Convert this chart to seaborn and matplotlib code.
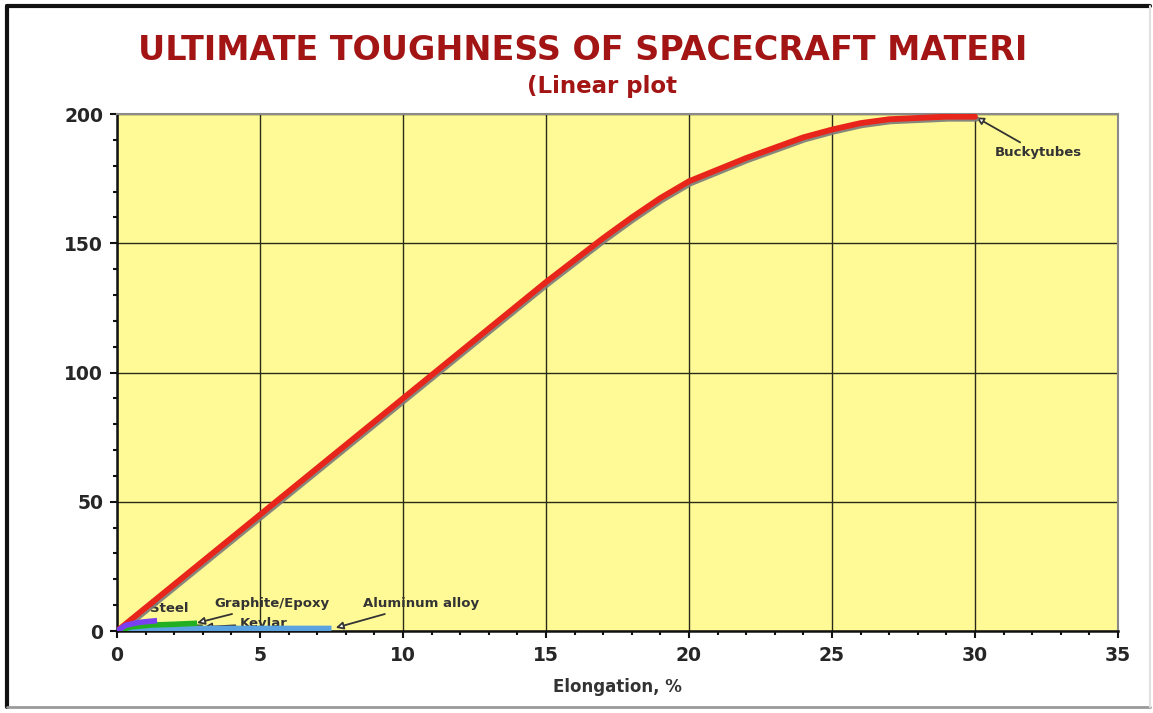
import numpy as np
import pandas as pd
import matplotlib
matplotlib.use("Agg")
import matplotlib.pyplot as plt
import matplotlib.patheffects as pe
import seaborn as sns
from matplotlib.ticker import MultipleLocator
from matplotlib.lines import Line2D

# Elongation (%) and toughness for each material
bucky_x = [0, 5, 10, 15, 16, 17, 18, 19, 20, 21, 22, 23, 24, 25, 26, 27, 28, 29, 30]
bucky_y = [0, 45, 90, 135, 143.5, 152, 160, 167.5, 174, 178.5, 183, 187, 191, 194,
           196.5, 198, 198.5, 199, 199]
steel_x = [0, 0.3, 0.7, 1.0, 1.4]
steel_y = [0, 2.2, 3.2, 3.6, 4.0]
graphite_x = [0, 0.5, 1.2, 2.0, 2.8]
graphite_y = [0, 1.6, 2.3, 2.6, 3.0]
kevlar_x = [0, 1.0, 2.0, 3.0]
kevlar_y = [0, 1.0, 1.3, 1.5]
aluminum_x = [0, 0.6, 2.0, 4.0, 7.5]
aluminum_y = [0, 0.7, 0.9, 1.0, 1.0]

frames = []
for name, xs, ys in [("Buckytubes", bucky_x, bucky_y), ("Steel", steel_x, steel_y),
                     ("Graphite/Epoxy", graphite_x, graphite_y), ("Kevlar", kevlar_x, kevlar_y),
                     ("Aluminum alloy", aluminum_x, aluminum_y)]:
    frames.append(pd.DataFrame({"elong": xs, "tough": ys, "material": name}))
df = pd.concat(frames, ignore_index=True)

sns.set_style("white")
plt.rcParams["font.family"] = ["DejaVu Sans"]

fig = plt.figure(figsize=(11.53, 7.13), dpi=100)
ax = fig.add_axes([0.1015, 0.115, 0.8681, 0.725])
ax.set_facecolor("#FFFA96")

colors = {"Buckytubes": "#E8251A", "Steel": "#7B3FF2", "Graphite/Epoxy": "#22B022",
          "Kevlar": "#4A6030", "Aluminum alloy": "#5BA3E0"}

bt = df[df.material == "Buckytubes"]
sns.lineplot(data=bt, x="elong", y="tough", ax=ax, color=colors["Buckytubes"], lw=4.2,
             sort=False, estimator=None, zorder=4, solid_capstyle="round",
             solid_joinstyle="round",
             path_effects=[pe.SimpleLineShadow(offset=(1.0, -1.5), shadow_color="#7a7a7a",
                                               alpha=0.9), pe.Normal()])
for m in ["Kevlar", "Aluminum alloy", "Graphite/Epoxy", "Steel"]:
    sub = df[df.material == m]
    sns.lineplot(data=sub, x="elong", y="tough", ax=ax, color=colors[m], lw=4,
                 sort=False, estimator=None, zorder=5, solid_capstyle="butt")

ax.set_xlim(0, 35)
ax.set_ylim(0, 200)
ax.xaxis.set_major_locator(MultipleLocator(5))
ax.xaxis.set_minor_locator(MultipleLocator(1))
ax.yaxis.set_major_locator(MultipleLocator(50))
ax.yaxis.set_minor_locator(MultipleLocator(10))
ax.grid(True, which="major", color="#2a2a1a", lw=1.0, zorder=1)
ax.set_axisbelow(True)
ax.tick_params(which="major", direction="out", length=5, width=1.5, colors="#111111",
               labelsize=13.5, pad=5)
ax.tick_params(which="minor", direction="out", length=3, width=1.5, colors="#111111")
ax.tick_params(axis="x", which="major", pad=6)
ax.tick_params(axis="x", which="both", bottom=True)
ax.tick_params(axis="y", which="both", left=True)
for lab in ax.get_xticklabels() + ax.get_yticklabels():
    lab.set_fontweight("bold")
    lab.set_color("#262626")

for s in ["left", "bottom"]:
    ax.spines[s].set_color("#111111")
    ax.spines[s].set_linewidth(1.8)
for s in ["top", "right"]:
    ax.spines[s].set_color("#8a8a8a")
    ax.spines[s].set_linewidth(1.5)

ax.set_xlabel("Elongation, %", fontsize=12, fontweight="bold", color="#333333", labelpad=9)
ax.set_ylabel("")

arrow = dict(arrowstyle="-|>", color="#333333", lw=1.3, fc="white", mutation_scale=11,
             shrinkA=1, shrinkB=1)
tfont = dict(fontsize=9.5, fontweight="bold", color="#333333")
ax.annotate("Buckytubes", xy=(30, 199), xytext=(30.7, 185), arrowprops=arrow,
            va="center", ha="left", **tfont)
ax.text(1.15, 8.7, "Steel", va="center", ha="left", **tfont)
ax.annotate("Graphite/Epoxy", xy=(2.75, 3.0), xytext=(3.4, 10.5), arrowprops=arrow,
            va="center", ha="left", **tfont)
ax.annotate("Kevlar", xy=(3.0, 1.5), xytext=(4.3, 2.8), arrowprops=arrow,
            va="center", ha="left", **tfont)
ax.annotate("Aluminum alloy", xy=(7.6, 1.1), xytext=(8.6, 10.5), arrowprops=arrow,
            va="center", ha="left", **tfont)

fig.text(138 / 1153, 1 - 51 / 713, "ULTIMATE TOUGHNESS OF SPACECRAFT MATERI", fontsize=24,
         fontweight="bold", color="#A31515", ha="left", va="center")
fig.text(527 / 1153, 1 - 87 / 713, "(Linear plot", fontsize=16.5, fontweight="bold",
         color="#A31515", ha="left", va="center")

# outer frame of the chart: dark left/top edges, light bottom/right edges
fig.add_artist(Line2D([0.006, 0.006], [0.008, 0.992], transform=fig.transFigure,
                      color="#111111", lw=3))
fig.add_artist(Line2D([0.006, 0.997], [0.992, 0.992], transform=fig.transFigure,
                      color="#111111", lw=3))
fig.add_artist(Line2D([0.006, 0.997], [0.008, 0.008], transform=fig.transFigure,
                      color="#9a9a9a", lw=2))
fig.add_artist(Line2D([0.997, 0.997], [0.008, 0.992], transform=fig.transFigure,
                      color="#e0e0e0", lw=1.5))

fig.savefig("out.png", dpi=100)
